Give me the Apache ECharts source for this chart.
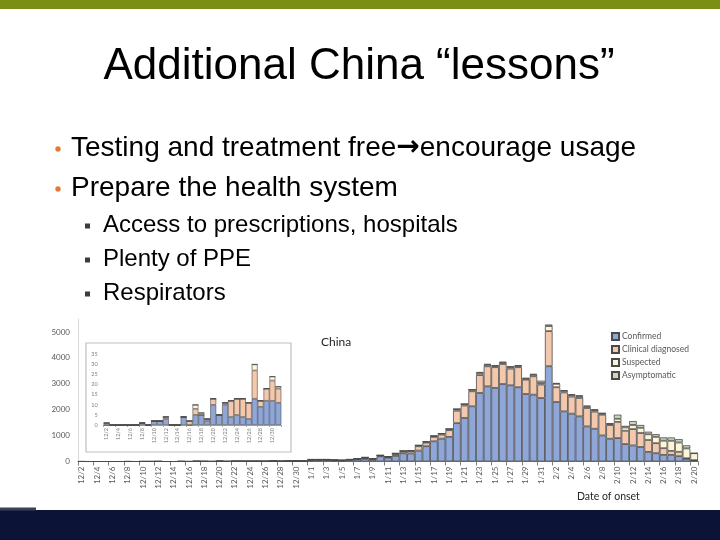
<!DOCTYPE html>
<html><head><meta charset="utf-8">
<script src="https://cdn.jsdelivr.net/npm/echarts@6/dist/echarts.min.js"></script>
<style>html,body{margin:0;padding:0;background:#fff;}#c{width:720px;height:540px;}</style>
</head><body><div id="c"></div>
<script>
const dates = ['12/2','12/3','12/4','12/5','12/6','12/7','12/8','12/9','12/10','12/11','12/12','12/13','12/14','12/15','12/16','12/17','12/18','12/19','12/20','12/21','12/22','12/23','12/24','12/25','12/26','12/27','12/28','12/29','12/30','12/31',
'1/1','1/2','1/3','1/4','1/5','1/6','1/7','1/8','1/9','1/10','1/11','1/12','1/13','1/14','1/15','1/16','1/17','1/18','1/19','1/20','1/21','1/22','1/23','1/24','1/25','1/26','1/27','1/28','1/29','1/30','1/31',
'2/1','2/2','2/3','2/4','2/5','2/6','2/7','2/8','2/9','2/10','2/11','2/12','2/13','2/14','2/15','2/16','2/17','2/18','2/19','2/20'];

const confirmed = [0,0,0,0,0,0,1,0,2,2,3,0,0,4,0,5,5,2,10,5,10,4,5,4,3,13,9,12,12,11,
55,55,55,45,35,60,80,100,65,200,150,215,315,310,420,590,780,880,950,1480,1680,2130,2645,2900,2840,2990,2940,2865,2605,2580,2450,
3677,2296,1935,1845,1742,1355,1264,1006,877,903,671,620,560,370,320,255,255,205,100,50];

const clinical = [1,0,0,0,0,0,0,0,0,0,1,0,0,0,2,3,0,1,3,0,1,8,8,9,8,14,3,6,10,7,
15,15,15,10,10,15,20,40,35,25,25,70,70,85,170,140,170,160,260,480,480,580,690,775,800,775,645,775,555,710,520,
1355,570,730,660,710,710,660,800,530,625,515,630,540,460,387,258,155,168,25,0];

const suspected = [0,0,0,0,0,0,0,0,0,0,0,0,0,0,0,2,1,0,0,0,0,0,0,0,0,3,0,0,2,1,
10,10,10,5,5,5,10,20,15,15,15,30,25,25,35,35,40,40,50,65,60,65,80,60,50,55,60,50,40,60,60,
195,130,60,60,70,60,60,45,45,120,130,160,200,220,245,290,390,360,380,270];

const asymptomatic = [0,0,0,0,0,0,0,0,0,0,0,0,0,0,0,0,0,0,0,0,0,0,0,0,0,0,0,0,0,0,
0,0,0,0,0,0,0,0,0,0,0,0,0,0,0,0,0,0,0,0,0,0,40,30,25,25,30,25,25,30,90,
60,35,30,30,30,30,30,20,20,160,60,150,110,100,103,129,129,129,120,0];

const seriesNames = ['Confirmed','Clinical diagnosed','Suspected','Asymptomatic'];
const mainTicks = [0,1000,2000,3000,4000,5000];
const insetDays = 30; // December part shown in the inset

const colors = ['#8fa7d8','#f4c8ac','#fdf6d6','#cad8be'];
const FONT = 'Lato, "Open Sans", sans-serif';
const SLIDE = '"Liberation Sans", Arial, sans-serif';

const allData = [confirmed, clinical, suspected, asymptomatic];
const series = [];
allData.forEach((d, k) => {
  series.push({name: seriesNames[k], type:'bar', stack:'main', xAxisIndex:0, yAxisIndex:0, data:d,
    barCategoryGap:'0%', itemStyle:{color:colors[k], borderColor:'#4a4a4a', borderWidth:0.8},
    emphasis:{disabled:true}});
});
allData.forEach((d, k) => {
  series.push({name: seriesNames[k], type:'bar', stack:'inset', xAxisIndex:1, yAxisIndex:1, data:d.slice(0, insetDays),
    barCategoryGap:'0%', itemStyle:{color:colors[k], borderColor:'#4a4a4a', borderWidth:0.6},
    emphasis:{disabled:true}});
});

const chart = echarts.init(document.getElementById('c'));
chart.setOption({
  animation:false,
  backgroundColor:'#fff',
  legend:{data:seriesNames, orient:'vertical', left:606, top:327, itemWidth:7, itemHeight:7, itemGap:4,
    icon:'rect', selectedMode:false, textStyle:{fontSize:8.5, color:'#595959', fontFamily:FONT, padding:[0,0,0,-2]}},
  grid:[
    {left:78, right:22, top:319, bottom:78.5},
    {left:103.7, right:438.7, top:354.3, bottom:115}
  ],
  xAxis:[
    {type:'category', gridIndex:0, data:dates,
      axisLine:{lineStyle:{color:'#7f7f7f'}},
      axisTick:{show:true, interval:1, length:4, lineStyle:{color:'#7f7f7f'}},
      axisLabel:{rotate:90, interval:1, fontSize:8, color:'#595959', fontFamily:FONT, margin:5}},
    {type:'category', gridIndex:1, data:dates.slice(0, insetDays),
      axisLine:{lineStyle:{color:'#a6a6a6'}},
      axisTick:{show:true, interval:1, length:2, lineStyle:{color:'#a6a6a6'}},
      axisLabel:{rotate:90, interval:1, fontSize:5.5, color:'#7f7f7f', fontFamily:FONT, margin:3}}
  ],
  yAxis:[
    {type:'value', gridIndex:0, min:0, max:5500, interval:1000,
      axisLine:{show:true, lineStyle:{color:'#d9d9d9'}}, axisTick:{show:false}, splitLine:{show:false},
      axisLabel:{fontSize:8, color:'#595959', fontFamily:FONT, margin:8, showMaxLabel:false,
        formatter:v => mainTicks.indexOf(v) >= 0 ? String(v) : ''}},
    {type:'value', gridIndex:1, min:0, max:35, interval:5,
      axisLine:{show:false}, axisTick:{show:false}, splitLine:{show:false},
      axisLabel:{fontSize:5.5, color:'#7f7f7f', fontFamily:FONT, margin:6}}
  ],
  series: series,
  graphic:[
    {type:'rect', shape:{x:0,y:0,width:720,height:9}, style:{fill:'#7b8f14'}},
    {type:'rect', shape:{x:0,y:510,width:720,height:30}, style:{fill:'#0b1437'}},
    {type:'rect', shape:{x:0,y:507.5,width:36,height:3}, style:{fill:'#3b4158'}},
    {type:'text', x:359, y:67, style:{text:'Additional China “lessons”', fontSize:44, fontFamily:SLIDE, fill:'#000', align:'center', verticalAlign:'middle'}},
    {type:'circle', shape:{cx:58, cy:149, r:2.7}, style:{fill:'#e0793a'}},
    {type:'circle', shape:{cx:58, cy:189, r:2.7}, style:{fill:'#e0793a'}},
    {type:'text', x:71, y:148, style:{text:'{t|Testing and treatment free}{a|→}{t|encourage usage}', verticalAlign:'middle',
      rich:{t:{fontSize:28, fontFamily:SLIDE, fill:'#000'}, a:{fontSize:28, fontFamily:'"DejaVu Sans"', fontWeight:'bold', fill:'#000'}}}},
    {type:'text', x:71, y:188, style:{text:'Prepare the health system', fontSize:28, fontFamily:SLIDE, fill:'#000', verticalAlign:'middle'}},
    {type:'rect', shape:{x:85, y:223.5, width:5, height:5}, style:{fill:'#3c3c3c'}},
    {type:'rect', shape:{x:85, y:257.5, width:5, height:5}, style:{fill:'#3c3c3c'}},
    {type:'rect', shape:{x:85, y:291.5, width:5, height:5}, style:{fill:'#3c3c3c'}},
    {type:'text', x:103, y:225, style:{text:'Access to prescriptions, hospitals', fontSize:24, fontFamily:SLIDE, fill:'#000', verticalAlign:'middle'}},
    {type:'text', x:103, y:259, style:{text:'Plenty of PPE', fontSize:24, fontFamily:SLIDE, fill:'#000', verticalAlign:'middle'}},
    {type:'text', x:103, y:293, style:{text:'Respirators', fontSize:24, fontFamily:SLIDE, fill:'#000', verticalAlign:'middle'}},
    {type:'rect', z:-1, shape:{x:86, y:343, width:205, height:109}, style:{fill:'#fff', stroke:'#bfbfbf', lineWidth:1.2}},
    {type:'text', x:321, y:342, style:{text:'China', fontSize:12, fontFamily:FONT, fill:'#262626', verticalAlign:'middle'}},
    {type:'text', x:577, y:497, style:{text:'Date of onset', fontSize:10.5, fontFamily:FONT, fill:'#262626', verticalAlign:'middle'}}
  ]
});
</script></body></html>
